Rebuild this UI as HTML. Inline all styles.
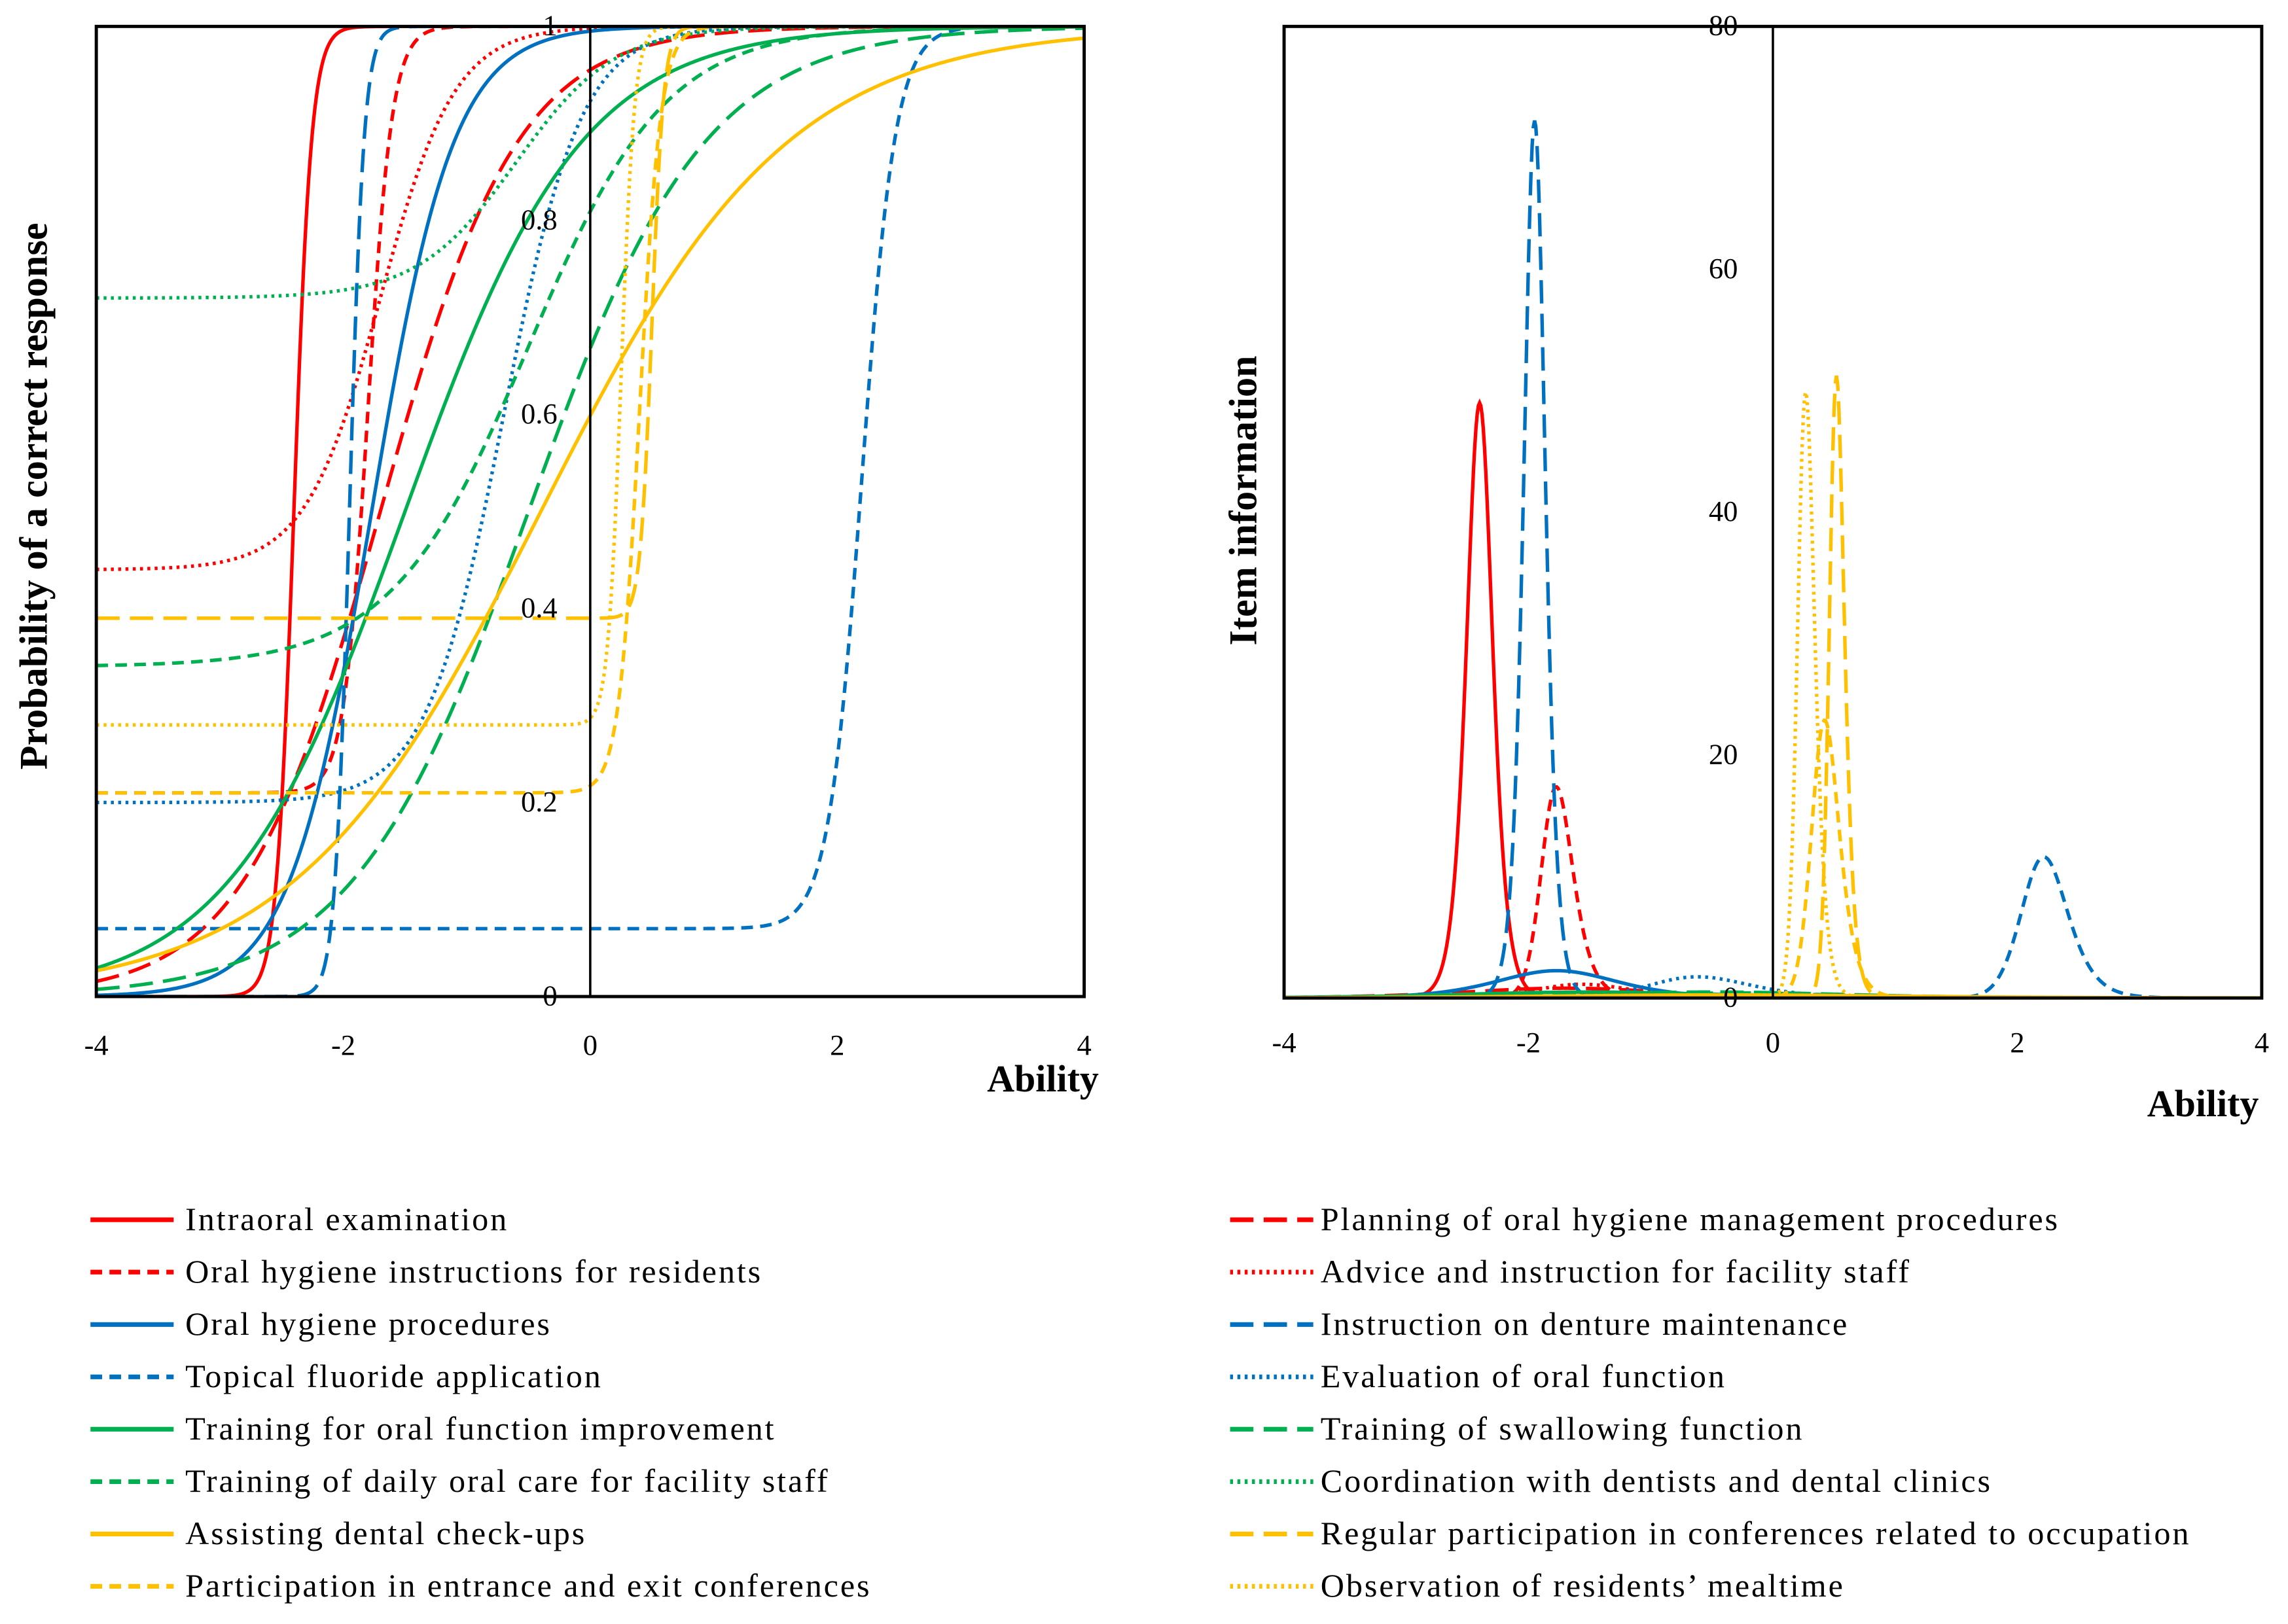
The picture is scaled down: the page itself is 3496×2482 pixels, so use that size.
<!DOCTYPE html>
<html><head><meta charset="utf-8"><style>
html,body{margin:0;padding:0;background:#fff;}
svg{display:block;font-family:"Liberation Serif",serif;}
</style></head><body>
<svg id="chart" width="3496" height="2482" viewBox="0 0 1568 1113" xmlns="http://www.w3.org/2000/svg">
<defs>
<clipPath id="clipL"><rect x="66" y="18" width="677" height="665"/></clipPath>
<clipPath id="clipR"><rect x="880" y="18" width="670" height="666"/></clipPath>
</defs>
<g id="left"></g>
<g id="right"></g>
<g id="legend"></g>
</svg>
<script>
const itemNames = ["Intraoral examination","Planning of oral hygiene management procedures","Oral hygiene instructions for residents","Advice and instruction for facility staff","Oral hygiene procedures","Instruction on denture maintenance","Topical fluoride application","Evaluation of oral function","Training for oral function improvement","Training of swallowing function","Training of daily oral care for facility staff","Coordination with dentists and dental clinics","Assisting dental check-ups","Regular participation in conferences related to occupation","Participation in entrance and exit conferences","Observation of residents\u2019 mealtime"];
const discrimination = [14, 1.8, 10.2, 3.3, 3, 17, 7.3, 3.2, 1.4, 1.4, 1.8, 2.5, 1.0, 21, 11.7, 18.5];
const difficulty = [-2.4, -1.7, -1.8, -1.7, -1.77, -1.95, 2.2, -0.7, -1.5, -0.5, -0.5, -0.6, -0.4, 0.5, 0.4, 0.25];
const guessing = [0, 0, 0.21, 0.44, 0, 0, 0.07, 0.2, 0, 0, 0.34, 0.72, 0, 0.39, 0.21, 0.28];
const xTicks = [-4,-2,0,2,4];
const yTicksL = [0,0.2,0.4,0.6,0.8,1];
const yTicksR = [0,20,40,60,80];

const colors = ["#FF0000","#FF0000","#FF0000","#FF0000","#0070C0","#0070C0","#0070C0","#0070C0","#00B050","#00B050","#00B050","#00B050","#FFC000","#FFC000","#FFC000","#FFC000"];
const styleKinds = ["solid","long","short","dot","solid","long","short","dot","solid","long","short","dot","solid","long","short","dot"];
const dashMap = {solid:"", long:"16,7", short:"8,5", dot:"2,3"};
const NS = "http://www.w3.org/2000/svg";
function mk(tag, attrs, parent){const e=document.createElementNS(NS,tag);for(const k in attrs)e.setAttribute(k,attrs[k]);parent.appendChild(e);return e;}

const xL = t => 66 + (t+4)*(677/8);
const yL = p => 683 - p*665;
const xR = t => 880 + (t+4)*(670/8);
const yR = v => 684 - v*(666/80);

function P(i,t){const c=guessing[i];return c+(1-c)/(1+Math.exp(-discrimination[i]*(t-difficulty[i])));}
function I(i,t){const c=guessing[i],a=discrimination[i],p=P(i,t);const q=(p-c)/(1-c);return a*a*q*q*(1-p)/p;}

const L=document.getElementById('left'), R=document.getElementById('right'), G=document.getElementById('legend');
const N=800;
const gl = mk('g',{'clip-path':'url(#clipL)'},L);
const gr = mk('g',{'clip-path':'url(#clipR)'},R);
for(let i=0;i<itemNames.length;i++){
  let d1="",d2="";
  for(let k=0;k<=N;k++){const t=-4+8*k/N;
    d1+=(k?"L":"M")+xL(t).toFixed(2)+","+yL(P(i,t)).toFixed(2);
    d2+=(k?"L":"M")+xR(t).toFixed(2)+","+yR(Math.min(I(i,t),200)).toFixed(2);}
  const p1=mk('path',{d:d1,fill:'none',stroke:colors[i],'stroke-width':2.4,'stroke-dasharray':dashMap[styleKinds[i]]},gl);
  
  
  const p2=mk('path',{d:d2,fill:'none',stroke:colors[i],'stroke-width':2.4,'stroke-dasharray':dashMap[styleKinds[i]]},gr);
  
  
}
mk('rect',{x:66,y:18,width:677,height:665,fill:'none',stroke:'#000','stroke-width':2.2,},L);
mk('line',{x1:xL(0),y1:18,x2:xL(0),y2:683,stroke:'#000','stroke-width':1.6,},L);
mk('rect',{x:880,y:18,width:670,height:666,fill:'none',stroke:'#000','stroke-width':2.2,},R);
mk('line',{x1:xR(0),y1:18,x2:xR(0),y2:684,stroke:'#000','stroke-width':1.6,},R);
xTicks.forEach(t=>{
  const a=mk('text',{x:xL(t),y:723,'font-size':20,'text-anchor':'middle'},L);a.textContent=t;
  
  const b=mk('text',{x:xR(t),y:721,'font-size':20,'text-anchor':'middle'},R);b.textContent=t;
  
});
yTicksL.forEach(v=>{
  const a=mk('text',{x:382,y:yL(v)+6,'font-size':20,'text-anchor':'end'},L);a.textContent=String(v);
  
});
yTicksR.forEach(v=>{
  const a=mk('text',{x:1191,y:yR(v)+6,'font-size':20,'text-anchor':'end'},R);a.textContent=String(v);
  
});
let t=mk('text',{x:753,y:748,'font-size':26,'font-weight':'bold','text-anchor':'end',},L);t.textContent='Ability';
t=mk('text',{x:1548,y:765,'font-size':26,'font-weight':'bold','text-anchor':'end',},R);t.textContent='Ability';
t=mk('text',{x:0,y:0,'font-size':27,'font-weight':'bold','text-anchor':'middle',transform:'translate(32,340) rotate(-90)',},L);t.textContent='Probability of a correct response';
t=mk('text',{x:0,y:0,'font-size':27,'font-weight':'bold','text-anchor':'middle',transform:'translate(861,343) rotate(-90)',},R);t.textContent='Item information';
const leftOrder=[0,2,4,6,8,10,12,14], rightOrder=[1,3,5,7,9,11,13,15];
function legRow(i,row,col){
  const y=836+row*35.9;
  const lx=col?843:62, tx=col?905:127;
  const g=mk('g',{},G);
  
  
  mk('line',{x1:lx,y1:y,x2:lx+57,y2:y,stroke:colors[i],'stroke-width':3.2,'stroke-dasharray':dashMap[styleKinds[i]]},g);
  const tt=mk('text',{x:tx,y:y+7,'font-size':22.5,'letter-spacing':1.3},g);tt.textContent=itemNames[i];
}
leftOrder.forEach((i,r)=>legRow(i,r,0));
rightOrder.forEach((i,r)=>legRow(i,r,1));
</script>
</body></html>
